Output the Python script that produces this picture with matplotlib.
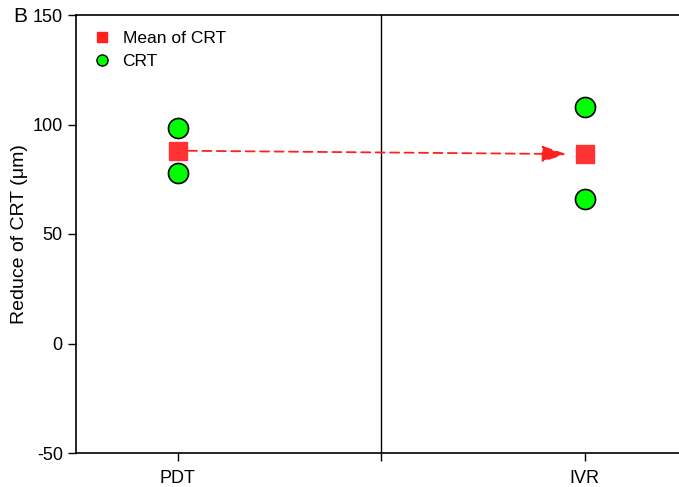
import numpy as np
import matplotlib
matplotlib.use("Agg")
from matplotlib import pyplot as plt
from matplotlib.lines import Line2D

plt.rcParams['font.family'] = ['Liberation Sans', 'DejaVu Sans']
plt.rcParams['axes.unicode_minus'] = False

groups = ["PDT", "IVR"]
group_x = [1, 2]
crt_pdt = [98.5, 78]
crt_ivr = [108, 66]
mean_crt = [88, 86.5]

fig = plt.figure(figsize=(6.79, 4.87), dpi=100)
ax = fig.add_axes([76 / 679, 34 / 487, 1 - 76 / 679, 438 / 487])

ax.scatter([group_x[0]] * len(crt_pdt), crt_pdt, s=20 ** 2 * 0.52, c='#00ff00',
           edgecolors='black', linewidths=1.2, zorder=3)
ax.scatter([group_x[1]] * len(crt_ivr), crt_ivr, s=20 ** 2 * 0.52, c='#00ff00',
           edgecolors='black', linewidths=1.2, zorder=3)
ax.plot(group_x, mean_crt, linestyle='none', marker='s', markersize=13,
        color='#ff3333', zorder=4)

ax.annotate("", xy=(group_x[1] - 0.045, mean_crt[1]),
            xytext=(group_x[0] + 0.025, mean_crt[0]),
            arrowprops=dict(arrowstyle='-|>,head_length=1.5,head_width=0.5',
                            color='#ff2020', linestyle=(0, (5, 3)), lw=1.3,
                            shrinkA=0, shrinkB=0, mutation_scale=10))

ax.axvline(1.5, color='black', lw=1)

ax.set_xlim(0.75, 2.232)
ax.set_ylim(-50, 150)
ax.set_yticks([-50, 0, 50, 100, 150])
ax.set_xticks([1, 1.5, 2])
ax.set_xticklabels(["PDT", "", "IVR"])
ax.tick_params(direction='out', length=6, width=1, labelsize=13)
ax.tick_params(axis='x', pad=6)
ax.spines['right'].set_visible(False)
for s in ['left', 'top', 'bottom']:
    ax.spines[s].set_linewidth(1.2)
ax.set_ylabel("Reduce of CRT (μm)", fontsize=14, labelpad=3)

handles = [Line2D([], [], linestyle='none', marker='s', markersize=7, color='#ff2020'),
           Line2D([], [], linestyle='none', marker='o', markersize=8,
                  markerfacecolor='#00ff00', markeredgecolor='black')]
ax.legend(handles, ["Mean of CRT", "CRT"], loc='upper left', frameon=False,
          fontsize=12.5, handletextpad=0.2, labelspacing=0.42,
          bbox_to_anchor=(-0.012, 0.999))

fig.text(13 / 679, 1 - 16 / 487, "B", fontsize=15, va='center')

fig.savefig("out.png", dpi=100)
